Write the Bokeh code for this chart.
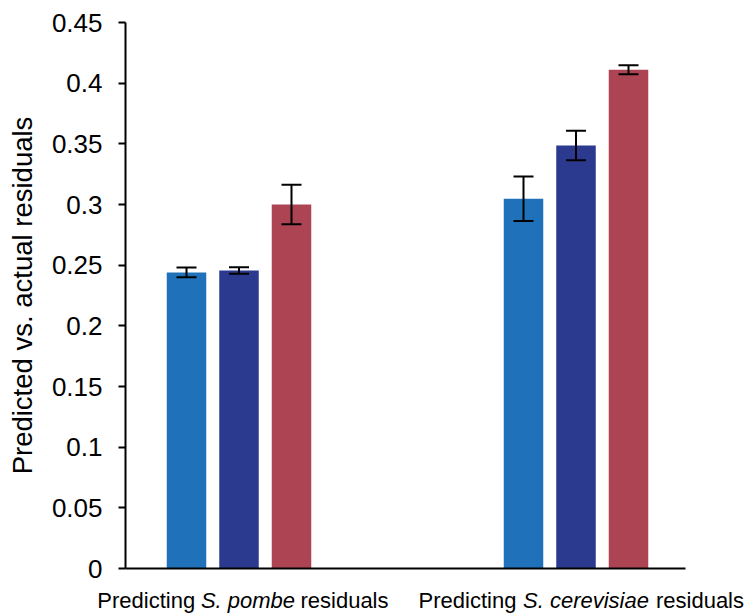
from bokeh.plotting import figure
from bokeh.models import (ColumnDataSource, Range1d, FixedTicker, Whisker, TeeHead,
                          LinearAxis)
from bokeh.embed import file_html
from bokeh.resources import INLINE

# ---- data ----
categories = ["S. pombe", "S. cerevisiae"]
group_pos = [1, 2]
series_a = [0.244, 0.3047]
series_b = [0.2456, 0.3486]
series_c = [0.300, 0.411]
err_a = [0.0040, 0.0184]
err_b = [0.0027, 0.0122]
err_c = [0.0163, 0.0037]
series_colors = ["#1f72b9", "#2b3a8f", "#ad4453"]
y_ticks = [0, 0.05, 0.1, 0.15, 0.2, 0.25, 0.3, 0.35, 0.4, 0.45]
y_tick_labels = ["0", "0.05", "0.1", "0.15", "0.2", "0.25", "0.3", "0.35", "0.4", "0.45"]
label_prefix = "Predicting"
label_suffix = "residuals"
y_title = "Predicted vs. actual residuals"

FONT = "Liberation Sans"

# ---- layout constants (pixels) ----
W, H = 747, 615
FRAME_L, AXIS_R, FRAME_T, ZERO_Y = 125, 685, 22, 568
GROUP_PX = 337.0            # pixels between the two group centres
FIRST_CENTER = 238.5
x_start = group_pos[0] - (FIRST_CENTER - FRAME_L) / GROUP_PX
x_end = x_start + (W - FRAME_L) / GROUP_PX


def x_at(px):
    return x_start + (px - FRAME_L) / GROUP_PX


p = figure(width=W, height=H, output_backend="svg", toolbar_location=None,
           x_axis_location=None,
           x_range=Range1d(x_start, x_end), y_range=Range1d(0, 0.45),
           min_border_left=FRAME_L, min_border_right=0, min_border_top=FRAME_T,
           min_border_bottom=H - ZERO_Y)
p.outline_line_color = None
p.grid.grid_line_color = None
p.background_fill_color = "white"

offset = 52.5 / GROUP_PX
width = 39.5 / GROUP_PX
xs, tops, cols, ups, lows = [], [], [], [], []
for i, (vals, errs) in enumerate([(series_a, err_a), (series_b, err_b), (series_c, err_c)]):
    for g, v, e in zip(group_pos, vals, errs):
        xs.append(g + (i - 1) * offset)
        tops.append(v)
        cols.append(series_colors[i])
        ups.append(v + e)
        lows.append(v - e)

src = ColumnDataSource(dict(x=xs, top=tops, color=cols, upper=ups, lower=lows))
p.vbar(x="x", top="top", bottom=0, width=width, color="color", line_color=None, source=src)

wh = Whisker(base="x", upper="upper", lower="lower", source=src, line_width=2, line_color="black",
             upper_head=TeeHead(size=20, line_width=2, line_color="black"),
             lower_head=TeeHead(size=20, line_width=2, line_color="black"))
wh.level = "overlay"
p.add_layout(wh)

# ---- y axis ----
p.yaxis.ticker = FixedTicker(ticks=y_ticks)
p.yaxis.major_label_overrides = {t: l for t, l in zip(y_ticks, y_tick_labels)}
p.yaxis.major_label_text_font = FONT
p.yaxis.major_label_text_font_size = "26px"
p.yaxis.major_label_text_color = "black"
p.yaxis.major_tick_out = 7
p.yaxis.major_tick_in = 0
p.yaxis.minor_tick_out = 0
p.yaxis.minor_tick_in = 0
p.yaxis.major_tick_line_width = 2
p.yaxis.major_tick_line_color = "black"
p.yaxis.axis_line_width = 2
p.yaxis.axis_line_color = "black"
p.yaxis.major_label_standoff = 16
p.yaxis.axis_label = y_title
p.yaxis.axis_label_text_font = FONT
p.yaxis.axis_label_text_font_size = "27.5px"
p.yaxis.axis_label_text_font_style = "normal"
p.yaxis.axis_label_text_color = "black"
p.yaxis.axis_label_standoff = 11

# ---- category labels ----
piece_px = [(-92.8, 9.0, 105.5), (-108.5, 10.0, 124.0)]
plain_ticks, plain_text, ital_ticks, ital_text = [], [], [], []
for g, name, (o1, o2, o3) in zip(group_pos, categories, piece_px):
    t1 = round(g + o1 / GROUP_PX, 6)
    t2 = round(g + o2 / GROUP_PX, 6)
    t3 = round(g + o3 / GROUP_PX, 6)
    plain_ticks += [t1, t3]
    plain_text += [label_prefix, label_suffix]
    ital_ticks.append(t2)
    ital_text.append(name)

common = dict(major_tick_out=0, major_tick_in=0, minor_tick_out=0, minor_tick_in=0,
              major_label_text_font=FONT, major_label_text_font_size="22px",
              major_label_text_color="black")

# first below axis: the x axis line (ends at the plot's right edge) + italic species names
ax_ital = LinearAxis(ticker=FixedTicker(ticks=ital_ticks),
                     major_label_overrides={t: s for t, s in zip(ital_ticks, ital_text)},
                     bounds=(x_start, x_at(AXIS_R)), axis_line_width=2, axis_line_color="black",
                     major_label_standoff=19, major_label_text_font_style="italic", **common)
p.add_layout(ax_ital, "below")

# second below axis: plain text parts, pulled up onto the same line
ax_plain = LinearAxis(ticker=FixedTicker(ticks=plain_ticks),
                      major_label_overrides={t: s for t, s in zip(plain_ticks, plain_text)},
                      axis_line_color=None, major_label_standoff=-28,
                      major_label_text_font_style="normal", **common)
p.add_layout(ax_plain, "below")

open("out.html", "w").write(file_html(p, INLINE))
